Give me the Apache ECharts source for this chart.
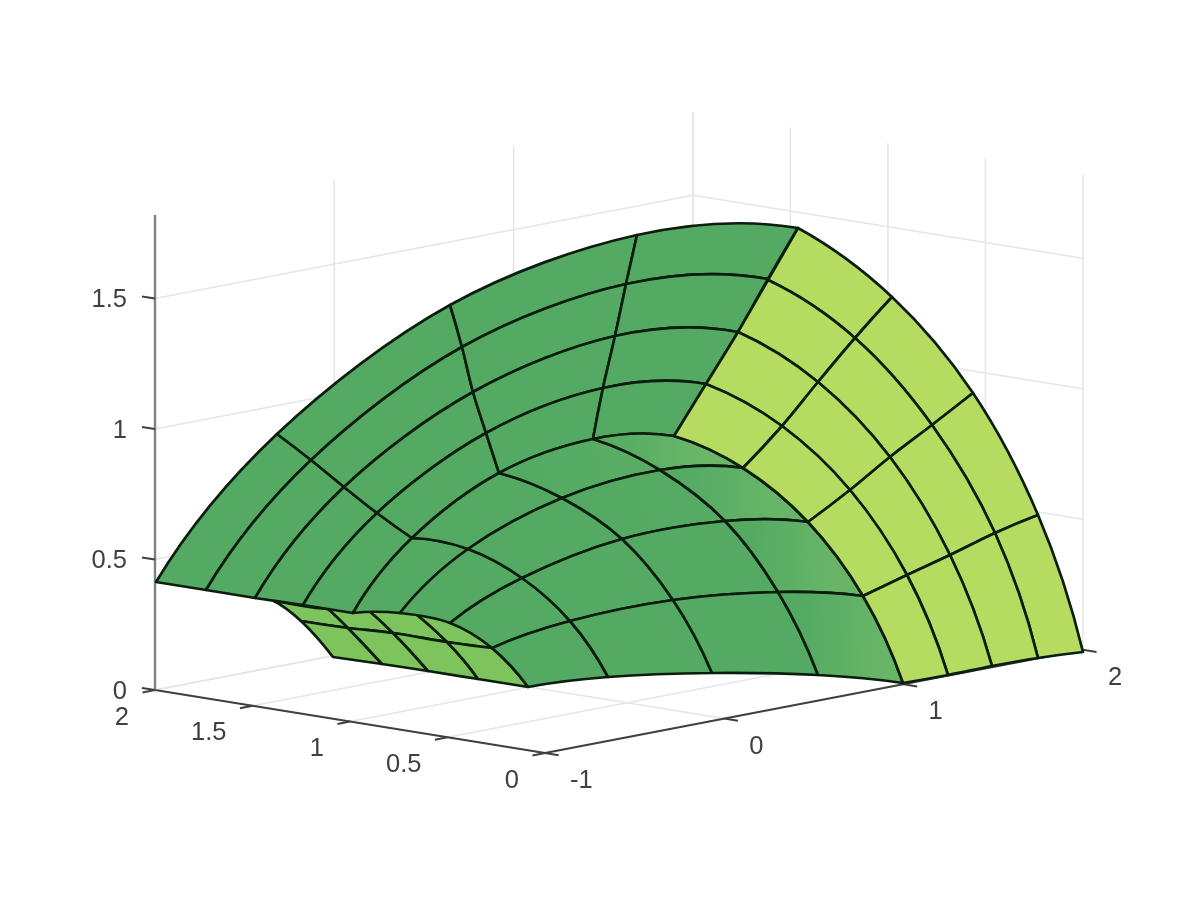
<!DOCTYPE html>
<html>
<head>
<meta charset="utf-8">
<style>html,body{margin:0;padding:0;background:#fff}#c{width:1196px;height:897px}</style>
<script src="https://cdn.jsdelivr.net/npm/echarts@6/dist/echarts.min.js"></script>
</head>
<body>
<div id="c"></div>
<script>
// Axis ticks
const xTicks = [-1, 0, 1, 2];
const yTicks = [0, 0.5, 1, 1.5, 2];
const zTicks = [0, 0.5, 1, 1.5];
const zTop = 1.82;

// Surface mesh: view-plane [u, v] of each mesh node.
const outerShell = [
  [[156,582],[277,434],[450,305],[637,235],[798,228]],
  [[206,590],[311,460],[462,347],[626,284],[768,279]],
  [[255,598],[344,487],[473,392],[615,336],[738,332]],
  [[303,605],[377,513],[486,433],[603,388],[706,384]],
  [[353,613],[412,538],[499,473],[593,439],[674,436]]
];
const innerShell = [
  [[353,613],[412,538],[499,473],[593,439],[674,436]],
  [[400,613],[468,549],[562,498],[660,470],[743,468]],
  [[450,623],[522,578],[622,539],[725,521],[808,522]],
  [[492,648],[570,621],[673,600],[778,592],[863,596]],
  [[528,687],[608,677],[712,673],[818,675],[903,683]]
];
const endCap = [
  [[798,228],[892,297],[973,393],[1038,515],[1083,652]],
  [[768,280],[855,338],[932,425],[995,533],[1038,658]],
  [[738,332],[818,382],[890,457],[950,555],[992,666]],
  [[706,384],[782,426],[850,490],[907,575],[948,675]],
  [[674,436],[743,468],[808,522],[863,596],[903,683]]
];
const underSide = [
  [[272,600],[328,609],[363,606],[407,607],[450,620]],
  [[301,621],[348,628],[393,633],[447,642],[492,648]],
  [[333,657],[382,664],[428,671],[478,679],[528,687]]
];
// Lighting on the inner shell, per mesh node (0 = base colour, 1 = highlight)
const innerLight = [
  [0,0,0,0.2,0.75],
  [0,0,0,0.1,0.6],
  [0,0,0,0.03,0.55],
  [0,0,0,0.0,0.6],
  [0,0,0,0.0,0.6]
];

// Orthographic view of the MATLAB axes box
function view(x, y, z) {
  return [
    545 + 179.3 * (x + 1) - 195 * y,
    753 - 34.4 * (x + 1) - 31.5 * y - 261 * z
  ];
}

const DARK = [84,170,99], HIGH = [118,189,108];
const LINE = '#0b1d0d', GRIDC = '#e4e4ea', AXISC = '#404040', AXISZ = '#808080', TEXTC = '#404040';
const FONT = '"Liberation Sans", Arial, sans-serif';

function mixColor(t) {
  return 'rgb(' + DARK.map((d, i) => Math.round(d + (HIGH[i] - d) * t)).join(',') + ')';
}

// Bezier controls of segment k of a smooth curve through `line`
function segment(line, k) {
  const n = line.length;
  const at = (i) => {
    if (i >= 0 && i < n) return line[i];
    if (i < 0) return [0, 1].map(c => 3 * line[0][c] - 3 * line[1][c] + line[2][c]);
    return [0, 1].map(c => 3 * line[n-1][c] - 3 * line[n-2][c] + line[n-3][c]);
  };
  const p0 = at(k - 1), p1 = at(k), p2 = at(k + 1), p3 = at(k + 2);
  return [
    [p1[0] + (p2[0] - p0[0]) / 6, p1[1] + (p2[1] - p0[1]) / 6],
    [p2[0] - (p3[0] - p1[0]) / 6, p2[1] - (p3[1] - p1[1]) / 6],
    p2
  ];
}
function fwd(line, k) {
  const s = segment(line, k);
  return 'C' + s.map(p => p[0].toFixed(2) + ' ' + p[1].toFixed(2)).join(' ');
}
function rev(line, k) {
  const s = segment(line, k);
  const a = line[k];
  return 'C' + [s[1], s[0], a].map(p => p[0].toFixed(2) + ' ' + p[1].toFixed(2)).join(' ');
}
function cellPath(mesh, i, j) {
  const row = (r) => mesh[r];
  const col = (c) => mesh.map(r => r[c]);
  const s = mesh[i][j];
  return 'M' + s[0] + ' ' + s[1] + fwd(row(i), j) + fwd(col(j + 1), i) + rev(row(i + 1), j) + rev(col(j), i) + 'Z';
}
function cells(mesh) {
  const out = [];
  for (let i = 0; i < mesh.length - 1; i++)
    for (let j = 0; j < mesh[0].length - 1; j++) out.push([i, j]);
  return out;
}
function meshInPixels(api, mesh) {
  return mesh.map(r => r.map(p => api.coord(p)));
}
function patchSeries(mesh, fillOf, z) {
  return {
    type: 'custom', coordinateSystem: 'cartesian2d', z, silent: true, clip: false,
    data: cells(mesh),
    encode: { x: 0, y: 1 },
    renderItem(params, api) {
      const i = api.value(0), j = api.value(1);
      const m = meshInPixels(api, mesh);
      return {
        type: 'path',
        shape: { pathData: cellPath(m, i, j) },
        style: { fill: fillOf(i, j, m), stroke: LINE, lineWidth: 2.7, lineJoin: 'round' }
      };
    }
  };
}
function innerFill(i, j, m) {
  const a = [(m[i][j][0] + m[i+1][j][0]) / 2, (m[i][j][1] + m[i+1][j][1]) / 2];
  const b = [(m[i][j+1][0] + m[i+1][j+1][0]) / 2, (m[i][j+1][1] + m[i+1][j+1][1]) / 2];
  const ta = (innerLight[i][j] + innerLight[i+1][j]) / 2;
  const tb = (innerLight[i][j+1] + innerLight[i+1][j+1]) / 2;
  return new echarts.graphic.LinearGradient(a[0], a[1], b[0], b[1],
    [{ offset: 0, color: mixColor(ta) }, { offset: 1, color: mixColor(tb) }], true);
}

// Axes box: lines and labels built from the tick arrays
function frameElements(api) {
  const els = [];
  const seg = (a, b, color, w) => {
    const p = api.coord(view(a[0], a[1], a[2])), q = api.coord(view(b[0], b[1], b[2]));
    els.push({ type: 'line', shape: { x1: p[0], y1: p[1], x2: q[0], y2: q[1] }, style: { stroke: color, lineWidth: w } });
  };
  const text = (pt, dx, dy, str, align) => {
    const p = api.coord(view(pt[0], pt[1], pt[2]));
    els.push({ type: 'text', x: p[0] + dx, y: p[1] + dy,
      style: { text: str, fill: TEXTC, font: '25.5px ' + FONT, align, verticalAlign: 'middle' } });
  };
  const xMin = xTicks[0], xMax = xTicks[xTicks.length - 1];
  const yMin = yTicks[0], yMax = yTicks[yTicks.length - 1];
  xTicks.forEach(x => {
    seg([x, yMin, 0], [x, yMax, 0], GRIDC, 1.5);
    seg([x, yMax, 0], [x, yMax, zTop], GRIDC, 1.5);
  });
  yTicks.forEach(y => {
    seg([xMin, y, 0], [xMax, y, 0], GRIDC, 1.5);
    seg([xMax, y, 0], [xMax, y, zTop], GRIDC, 1.5);
  });
  zTicks.forEach(z => {
    seg([xMin, yMax, z], [xMax, yMax, z], GRIDC, 1.5);
    seg([xMax, yMax, z], [xMax, yMin, z], GRIDC, 1.5);
  });
  seg([xMin, yMin, 0], [xMax, yMin, 0], AXISC, 2);
  seg([xMin, yMin, 0], [xMin, yMax, 0], AXISC, 2);
  seg([xMin, yMax, 0], [xMin, yMax, zTop], AXISZ, 2.4);
  xTicks.forEach(x => {
    seg([x, yMin, 0], [x, yMin - 0.07, 0], AXISC, 2);
    text([x, yMin, 0], 25, 28, String(x), 'left');
  });
  yTicks.forEach(y => {
    seg([xMin, y, 0], [xMin - 0.07, y, 0], AXISC, 2);
    text([xMin, y, 0], -26, 27.5, String(y), 'right');
  });
  zTicks.forEach(z => {
    seg([xMin, yMax, z], [xMin, yMax + 0.067, z], AXISC, 2);
    text([xMin, yMax, z], -28, 1.5, String(z), 'right');
  });
  return { type: 'group', children: els };
}

const chart = echarts.init(document.getElementById('c'), null, { renderer: 'canvas' });
chart.setOption({
  backgroundColor: '#ffffff',
  animation: false,
  grid: { left: 0, right: 0, top: 0, bottom: 0 },
  xAxis: { type: 'value', min: 0, max: 1196, show: false },
  yAxis: { type: 'value', min: 0, max: 897, inverse: true, show: false },
  series: [
    { type: 'custom', coordinateSystem: 'cartesian2d', z: 1, silent: true, clip: false,
      data: [[0, 0]], encode: { x: 0, y: 1 },
      renderItem: (params, api) => frameElements(api) },
    patchSeries(underSide, () => '#7DC45C', 2),
    patchSeries(outerShell, () => '#54AA63', 3),
    patchSeries(innerShell, innerFill, 4),
    patchSeries(endCap, () => '#B5DB60', 5)
  ]
});
</script>
</body>
</html>
